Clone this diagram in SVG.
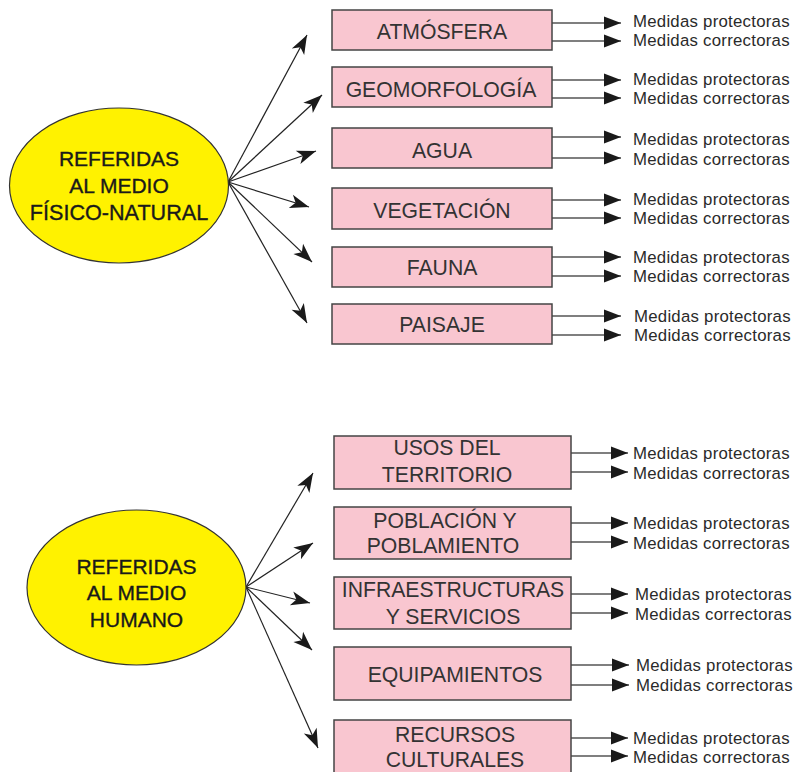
<svg xmlns="http://www.w3.org/2000/svg" width="793" height="772" viewBox="0 0 793 772">
<style>
.ell{fill:#FFF200;stroke:#333;stroke-width:1.2}
.et{font-family:"Liberation Sans",Arial,sans-serif;font-size:21px;fill:#1a1a1a;stroke:#1a1a1a;stroke-width:0.35;text-anchor:middle}
.box{fill:#F9C6D0;stroke:#444;stroke-width:1.5}
.bt{font-family:"Liberation Sans",Arial,sans-serif;font-size:21.2px;fill:#333;text-anchor:middle}
.mt{font-family:"Liberation Sans",Arial,sans-serif;font-size:16.8px;letter-spacing:0.25px;fill:#2a2a2a}
.dg{stroke:#222;stroke-width:1.2;fill:none;marker-end:url(#ah)}
.rt{stroke:#555;stroke-width:1.4;fill:none;marker-end:url(#tri)}
</style>
<defs>
<marker id="ah" markerUnits="userSpaceOnUse" markerWidth="20" markerHeight="15" refX="19" refY="7" orient="auto" overflow="visible">
<path d="M0,0 L19,7 L0,14 L5,7 z" fill="#1a1a1a"/>
</marker>
<marker id="tri" markerUnits="userSpaceOnUse" markerWidth="17" markerHeight="13" refX="17" refY="6.5" orient="auto" overflow="visible">
<path d="M0,0 L17,6.5 L0,13 z" fill="#1a1a1a"/>
</marker>
</defs>

<g id="connectors">
<line class="dg" x1="228" y1="182" x2="307" y2="35"/>
<line class="dg" x1="228" y1="182" x2="322" y2="95"/>
<line class="dg" x1="228" y1="182" x2="316" y2="151"/>
<line class="dg" x1="228" y1="182" x2="309" y2="207"/>
<line class="dg" x1="228" y1="182" x2="312" y2="262"/>
<line class="dg" x1="228" y1="182" x2="307" y2="323"/>

<line class="dg" x1="246" y1="587" x2="313" y2="473"/>
<line class="dg" x1="246" y1="587" x2="313" y2="543"/>
<line class="dg" x1="246" y1="587" x2="310" y2="603"/>
<line class="dg" x1="246" y1="587" x2="312" y2="650"/>
<line class="dg" x1="246" y1="587" x2="318" y2="748"/>

<line class="rt" x1="552" y1="23" x2="621" y2="23"/>
<line class="rt" x1="552" y1="41" x2="621" y2="41"/>
<line class="rt" x1="552" y1="80" x2="621" y2="80"/>
<line class="rt" x1="552" y1="98" x2="621" y2="98"/>
<line class="rt" x1="552" y1="137" x2="621" y2="137"/>
<line class="rt" x1="552" y1="158" x2="621" y2="158"/>
<line class="rt" x1="552" y1="200" x2="621" y2="200"/>
<line class="rt" x1="552" y1="218" x2="621" y2="218"/>
<line class="rt" x1="552" y1="257" x2="621" y2="257"/>
<line class="rt" x1="552" y1="276" x2="621" y2="276"/>
<line class="rt" x1="552" y1="316" x2="621" y2="316"/>
<line class="rt" x1="552" y1="335" x2="621" y2="335"/>

<line class="rt" x1="571" y1="453" x2="628" y2="453"/>
<line class="rt" x1="571" y1="472" x2="628" y2="472"/>
<line class="rt" x1="571" y1="523" x2="628" y2="523"/>
<line class="rt" x1="571" y1="542" x2="628" y2="542"/>
<line class="rt" x1="571" y1="594" x2="628" y2="594"/>
<line class="rt" x1="571" y1="613" x2="628" y2="613"/>
<line class="rt" x1="571" y1="665" x2="629" y2="665"/>
<line class="rt" x1="571" y1="685" x2="629" y2="685"/>
<line class="rt" x1="571" y1="738" x2="628" y2="738"/>
<line class="rt" x1="571" y1="756" x2="628" y2="756"/>
</g>

<g id="fisico">
<ellipse class="ell" cx="119" cy="185.5" rx="109.5" ry="77.5"/>
<text class="et" x="119" y="166">REFERIDAS</text>
<text class="et" x="119" y="193">AL MEDIO</text>
<text class="et" x="119" y="220" style="font-size:21.6px">FÍSICO-NATURAL</text>
</g>

<g id="atmosfera"><rect class="box" x="332" y="10" width="220" height="40"/><text class="bt" x="442" y="39">ATMÓSFERA</text>
<text class="mt" x="633" y="27">Medidas protectoras</text><text class="mt" x="633" y="46">Medidas correctoras</text></g>
<g id="geomorfologia"><rect class="box" x="332" y="67" width="220" height="40"/><text class="bt" x="441" y="97">GEOMORFOLOGÍA</text>
<text class="mt" x="633" y="85">Medidas protectoras</text><text class="mt" x="633" y="104">Medidas correctoras</text></g>
<g id="agua"><rect class="box" x="332" y="128" width="220" height="40"/><text class="bt" x="442" y="158">AGUA</text>
<text class="mt" x="633" y="145">Medidas protectoras</text><text class="mt" x="633" y="165">Medidas correctoras</text></g>
<g id="vegetacion"><rect class="box" x="332" y="188" width="220" height="41"/><text class="bt" x="442" y="218">VEGETACIÓN</text>
<text class="mt" x="633" y="205">Medidas protectoras</text><text class="mt" x="633" y="224">Medidas correctoras</text></g>
<g id="fauna"><rect class="box" x="332" y="247" width="220" height="40"/><text class="bt" x="442" y="275">FAUNA</text>
<text class="mt" x="633" y="263">Medidas protectoras</text><text class="mt" x="633" y="282">Medidas correctoras</text></g>
<g id="paisaje"><rect class="box" x="332" y="304" width="220" height="40"/><text class="bt" x="442" y="332">PAISAJE</text>
<text class="mt" x="634" y="322">Medidas protectoras</text><text class="mt" x="634" y="341">Medidas correctoras</text></g>

<g id="humano">
<ellipse class="ell" cx="136.5" cy="587.5" rx="109.5" ry="77.5"/>
<text class="et" x="136.5" y="574">REFERIDAS</text>
<text class="et" x="136.5" y="600">AL MEDIO</text>
<text class="et" x="136.5" y="627">HUMANO</text>
</g>

<g id="usos"><rect class="box" x="334" y="436" width="237" height="53"/><text class="bt" x="447" y="455">USOS DEL</text><text class="bt" x="447" y="482">TERRITORIO</text>
<text class="mt" x="633" y="459">Medidas protectoras</text><text class="mt" x="633" y="479">Medidas correctoras</text></g>
<g id="poblacion"><rect class="box" x="334" y="507" width="237" height="52"/><text class="bt" x="445" y="528">POBLACIÓN Y</text><text class="bt" x="443" y="553">POBLAMIENTO</text>
<text class="mt" x="633" y="529">Medidas protectoras</text><text class="mt" x="633" y="549">Medidas correctoras</text></g>
<g id="infraestructuras"><rect class="box" x="334" y="577" width="237" height="52"/><text class="bt" x="453" y="597">INFRAESTRUCTURAS</text><text class="bt" x="453" y="624">Y SERVICIOS</text>
<text class="mt" x="635" y="600">Medidas protectoras</text><text class="mt" x="635" y="620">Medidas correctoras</text></g>
<g id="equipamientos"><rect class="box" x="334" y="647" width="237" height="53"/><text class="bt" x="455" y="682">EQUIPAMIENTOS</text>
<text class="mt" x="636" y="671">Medidas protectoras</text><text class="mt" x="636" y="691">Medidas correctoras</text></g>
<g id="recursos"><rect class="box" x="334" y="720" width="237" height="60"/><text class="bt" x="455" y="742">RECURSOS</text><text class="bt" x="455" y="767">CULTURALES</text>
<text class="mt" x="633" y="744">Medidas protectoras</text><text class="mt" x="633" y="763">Medidas correctoras</text></g>
</svg>
